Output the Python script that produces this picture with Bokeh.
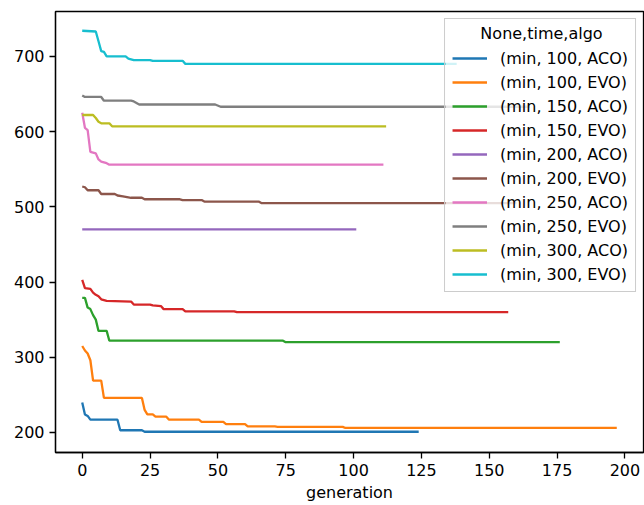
from bokeh.plotting import figure
from bokeh.models import Legend, LegendItem, FixedTicker, Range1d, Label, BoxAnnotation
from bokeh.embed import file_html
from bokeh.resources import INLINE

# ---- data (generation, best value) vertices per series ----
labels = ["(min, 100, ACO)", "(min, 100, EVO)", "(min, 150, ACO)", "(min, 150, EVO)",
          "(min, 200, ACO)", "(min, 200, EVO)", "(min, 250, ACO)", "(min, 250, EVO)",
          "(min, 300, ACO)", "(min, 300, EVO)"]
legend_title = "None,time,algo"

gen_100_aco = [0, 1, 2, 3, 13, 14, 22, 23, 124]
val_100_aco = [240, 224, 222, 217, 217, 203, 203, 201, 201]

gen_100_evo = [0, 1, 2, 3, 4, 7, 8, 22, 23, 24, 26, 27, 31, 32, 43, 44, 52, 53, 60, 61, 71, 72, 96, 97, 197]
val_100_evo = [315, 309, 305, 296, 269, 269, 246, 246, 230, 224, 224, 221, 221, 217, 217, 214, 214, 211, 211, 208, 208, 207.5, 207.5, 206, 206]

gen_150_aco = [0, 1, 2, 3, 4, 5, 6, 9, 10, 74, 75, 176]
val_150_aco = [379, 379, 366, 364, 356, 350, 335, 335, 322, 322, 320, 320]

gen_150_evo = [0, 1, 3, 4, 5, 6, 7, 9, 18, 19, 25, 26, 29, 30, 37, 38, 56, 57, 157]
val_150_evo = [403, 392, 391, 386, 383, 381, 377, 375, 374, 370, 370, 369, 368, 364, 364, 361, 361, 360, 360]

gen_200_aco = [0, 101]
val_200_aco = [470, 470]

gen_200_evo = [0, 1, 2, 6, 7, 12, 13, 15, 18, 22, 23, 36, 37, 44, 45, 65, 66, 160]
val_200_evo = [527, 526, 522, 522, 517, 517, 515, 514, 512, 512, 510, 510, 509, 509, 507, 507, 505, 505]

gen_250_aco = [0, 1, 2, 3, 5, 6, 7, 9, 10, 111]
val_250_aco = [625, 605, 602, 573, 571, 563, 560, 558, 556, 556]

gen_250_evo = [0, 1, 7, 8, 18, 19, 21, 49, 51, 165]
val_250_evo = [648, 646, 646, 641, 641, 640, 636, 636, 633, 633]

gen_300_aco = [0, 4, 5, 6, 7, 10, 11, 112]
val_300_aco = [622, 622, 618, 613, 611, 611, 607, 607]

gen_300_evo = [0, 5, 6, 7, 8, 9, 16, 17, 19, 25, 26, 37, 38, 138]
val_300_evo = [734, 733, 720, 707, 706, 700, 700, 697, 695, 695, 694, 694, 690, 690]

colors = ["#1f77b4", "#ff7f0e", "#2ca02c", "#d62728", "#9467bd",
          "#8c564b", "#e377c2", "#7f7f7f", "#bcbd22", "#17becf"]

x_ticks = [0, 25, 50, 75, 100, 125, 150, 175, 200]
y_ticks = [200, 300, 400, 500, 600, 700]

series = [(gen_100_aco, val_100_aco), (gen_100_evo, val_100_evo),
          (gen_150_aco, val_150_aco), (gen_150_evo, val_150_evo),
          (gen_200_aco, val_200_aco), (gen_200_evo, val_200_evo),
          (gen_250_aco, val_250_aco), (gen_250_evo, val_250_evo),
          (gen_300_aco, val_300_aco), (gen_300_evo, val_300_evo)]

FONT = "DejaVu Sans"
FS = "16px"

p = figure(width=644, height=505, output_backend="svg", toolbar_location=None,
           x_range=Range1d(-9.85, 206.85), y_range=Range1d(173.4, 759.6),
           min_border_left=55, min_border_right=1, min_border_top=11, min_border_bottom=53)

p.xgrid.visible = False
p.ygrid.visible = False
p.outline_line_color = "black"
p.outline_line_width = 1.3
p.outline_line_alpha = 1.0
p.background_fill_color = "white"
p.border_fill_color = "white"

for ax in (p.xaxis[0], p.yaxis[0]):
    ax.axis_line_color = "black"
    ax.axis_line_width = 1.3
    ax.major_tick_line_color = "black"
    ax.major_tick_line_width = 1.3
    ax.major_tick_out = 6
    ax.major_tick_in = 0
    ax.minor_tick_out = 0
    ax.minor_tick_in = 0
    ax.major_label_text_font = FONT
    ax.major_label_text_font_size = FS
    ax.major_label_text_color = "black"
    ax.major_label_standoff = 5

p.xaxis[0].ticker = FixedTicker(ticks=x_ticks)
p.yaxis[0].ticker = FixedTicker(ticks=y_ticks)
p.xaxis[0].axis_label = "generation"
p.xaxis[0].axis_label_text_font = FONT
p.xaxis[0].axis_label_text_font_size = FS
p.xaxis[0].axis_label_text_font_style = "normal"
p.xaxis[0].axis_label_text_color = "black"
p.xaxis[0].axis_label_standoff = 4

items = []
for (g, v), c, lab in zip(series, colors, labels):
    r = p.line(g, v, line_color=c, line_width=2.3)
    items.append(LegendItem(label=lab, renderers=[r]))

# semi-transparent legend fill (screen units, relative to the plot frame)
legend_box = BoxAnnotation(left=390, right=582, top=434, bottom=161,
                           left_units="screen", right_units="screen",
                           top_units="screen", bottom_units="screen",
                           fill_color="white", fill_alpha=0.8,
                           line_color=None, level="annotation")
p.add_layout(legend_box)

# legend: transparent fill, title text invisible (kept for spacing), centered title drawn by a label
legend = Legend(items=items, location="top_right", title=legend_title,
                border_line_color="#cccccc", border_line_width=1, border_line_alpha=1.0,
                background_fill_color="white", background_fill_alpha=0.0,
                padding=7, margin=7, spacing=4, label_height=20, glyph_height=20,
                glyph_width=35, label_standoff=13,
                label_text_font=FONT, label_text_font_size=FS, label_text_color="black",
                title_text_font=FONT, title_text_font_size=FS, title_text_font_style="normal",
                title_text_color=None, title_standoff=3)
p.add_layout(legend)

title_label = Label(x=486, y=419, x_units="screen", y_units="screen", text=legend_title,
                    text_font=FONT, text_font_size=FS, text_color="black",
                    text_align="center", text_baseline="middle", level="annotation")
p.add_layout(title_label)

open("out.html", "w").write(file_html(p, INLINE))
